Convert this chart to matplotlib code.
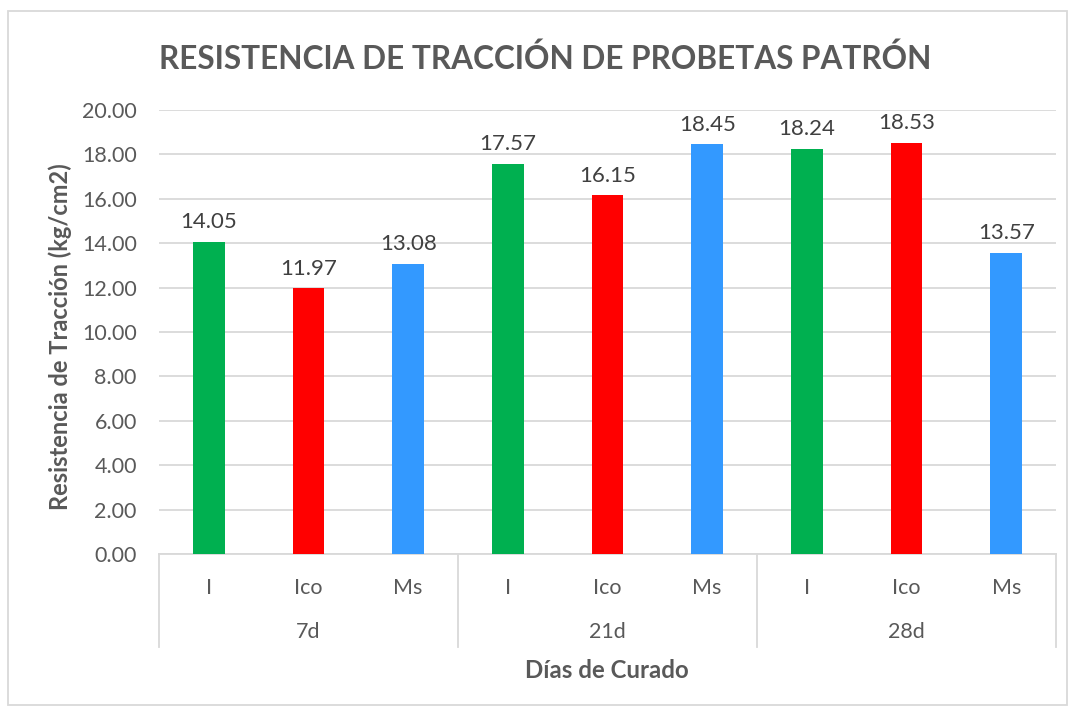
import matplotlib.pyplot as plt
import matplotlib.transforms as mtransforms
from matplotlib.patches import Rectangle
import numpy as np

plt.rcParams['font.family'] = ['Lato', 'DejaVu Sans']

# datos
grupos = ['7d', '21d', '28d']
muestras = ['I', 'Ico', 'Ms']
valores = [14.05, 11.97, 13.08, 17.57, 16.15, 18.45, 18.24, 18.53, 13.57]
colores = ['#00b050', '#ff0000', '#3399ff']

gris = '#595959'
x = np.arange(len(valores))

fig = plt.figure(figsize=(10.72, 7.11), dpi=100)
ax = fig.add_axes([0.1483, 0.2208, 0.8368, 0.6245])

bars = ax.bar(x, valores, width=0.32, color=colores * len(grupos), zorder=3)
for b, v in zip(bars, valores):
    ax.annotate(f'{v:.2f}', (b.get_x() + b.get_width() / 2, v), xytext=(0, 7),
                textcoords='offset points', ha='center', va='bottom',
                fontsize=16, color='#404040')

ax.set_xlim(-0.5, len(valores) - 0.5)
ax.set_ylim(0, 20)
ax.set_yticks(np.arange(0, 21, 2))
ax.yaxis.set_major_formatter('{x:.2f}')
ax.grid(axis='y', color='#d9d9d9', lw=1.3)
ax.set_axisbelow(True)
for s in ['top', 'right', 'left']:
    ax.spines[s].set_visible(False)
ax.spines['bottom'].set_color('#d9d9d9')
ax.spines['bottom'].set_linewidth(1.3)

ax.set_xticks(x)
ax.set_xticklabels(muestras * len(grupos))
ax.tick_params(axis='x', length=0, pad=17, labelsize=15.5, labelcolor=gris)
ax.tick_params(axis='y', length=0, pad=16, labelsize=15.5, labelcolor=gris)

# segundo nivel del eje x
trans = mtransforms.blended_transform_factory(ax.transData, ax.transAxes)
for i, g in enumerate(grupos):
    ax.text(i * 3 + 1, -0.1757, g, transform=trans, ha='center', va='center',
            fontsize=15.5, color=gris)
for xs in [-0.5, 2.5, 5.5, 8.5]:
    ax.plot([xs, xs], [0, -0.2095], transform=trans, color='#d9d9d9', lw=1.3,
            clip_on=False)

fig.text(0.509, 0.918, 'RESISTENCIA DE TRACCIÓN DE PROBETAS PATRÓN',
         ha='center', va='center', fontsize=22.7, fontweight='bold', color=gris)
fig.text(0.566, 1 - 671 / 711, 'Días de Curado', ha='center', va='center',
         fontsize=17.3, fontweight='bold', color=gris)
fig.text(60 / 1072, 1 - 337 / 711, 'Resistencia de Tracción (kg/cm2)',
         rotation=90, ha='center', va='center', fontsize=17,
         fontweight='bold', color=gris)

fig.add_artist(Rectangle((0.0075, 0.0084), 0.988, 0.976, transform=fig.transFigure,
                         fill=False, edgecolor='#d9d9d9', lw=1.3))

fig.savefig('out.png', dpi=100)
